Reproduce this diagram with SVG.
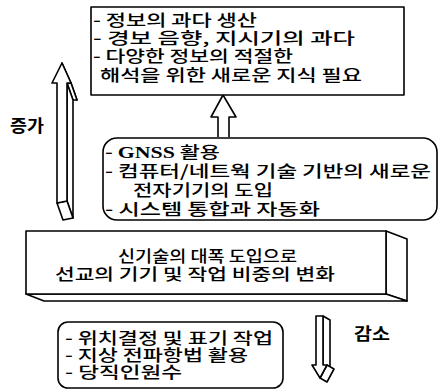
<svg xmlns="http://www.w3.org/2000/svg" width="441" height="390" viewBox="0 0 441 390">
<style>
.b{fill:#fff;stroke:#000;stroke-width:1.6;stroke-linejoin:round}
.t{font-family:"Noto Sans CJK KR","Noto Sans CJK SC",sans-serif;font-size:16px;fill:#000;font-weight:500}
.s{font-family:"Liberation Serif",serif;font-weight:bold}
.l{font-family:"Noto Sans CJK KR",sans-serif;font-size:17px;font-weight:bold;fill:#000}
</style>
<rect width="441" height="390" fill="#fff"/>
<g id="connectors">
  <g id="arrow-up-left">
    <polygon class="b" points="62,63 71,83 77,100 68,80"/>
    <polygon class="b" points="71,83 67,83 73,100 77,100"/>
    <polygon class="b" points="67,83 67,201 73,218 73,100"/>
    <polygon class="b" points="57,203 67,201 73,218 63,220"/>
    <polygon class="b" points="62,63 52,83 57,83 57,203 67,201 67,83 71,83"/>
  </g>
  <polyline id="arrow-up-center" class="b" fill="none" points="218,137 218,117 211,117 223,95 236,117 229,117 229,137"/>
  <g id="arrow-down-right">
    <polygon class="b" points="323,316 330,320 330,369 323,365"/>
    <polygon class="b" points="327,365 334,369 327,382 320,378"/>
    <polygon class="b" points="316,316 323,316 323,365 327,365 320,378 312,365 316,365"/>
  </g>
  <text class="l" x="10" y="132" textLength="34" lengthAdjust="spacingAndGlyphs">증가</text>
  <text class="l" x="354" y="340" textLength="36" lengthAdjust="spacingAndGlyphs">감소</text>
</g>
<g id="top-box">
  <rect class="b" x="91" y="7" width="313" height="88"/>
  <text class="t">
    <tspan x="93" y="26" textLength="164" lengthAdjust="spacingAndGlyphs">- 정보의 과다 생산</tspan>
    <tspan x="93" y="44" textLength="262" lengthAdjust="spacingAndGlyphs">- 경보 음향, 지시기의 과다</tspan>
    <tspan x="93" y="62" textLength="200" lengthAdjust="spacingAndGlyphs">- 다양한 정보의 적절한</tspan>
    <tspan x="100" y="81" textLength="262" lengthAdjust="spacingAndGlyphs">해석을 위한 새로운 지식 필요</tspan>
  </text>
</g>
<g id="tech-box">
  <rect class="b" x="103" y="138" width="334" height="82" rx="14"/>
  <text class="t">
    <tspan x="105" y="158" textLength="115" lengthAdjust="spacingAndGlyphs">- <tspan class="s">GNSS</tspan> 활용</tspan>
    <tspan x="105" y="177" textLength="326" lengthAdjust="spacingAndGlyphs">- 컴퓨터/네트웍 기술 기반의 새로운</tspan>
    <tspan x="133" y="196" textLength="140" lengthAdjust="spacingAndGlyphs">전자기기의 도입</tspan>
    <tspan x="105" y="215" textLength="215" lengthAdjust="spacingAndGlyphs">- 시스템 통합과 자동화</tspan>
  </text>
</g>
<g id="change-bar">
  <polygon class="b" points="386,231 407,239 407,301 386,294"/>
  <polygon class="b" points="26,294 386,294 407,301 44,301"/>
  <rect class="b" x="26" y="231" width="360" height="63"/>
  <text class="t">
    <tspan x="118" y="262" textLength="179" lengthAdjust="spacingAndGlyphs">신기술의 대폭 도입으로</tspan>
    <tspan x="55" y="280" textLength="280" lengthAdjust="spacingAndGlyphs">선교의 기기 및 작업 비중의 변화</tspan>
  </text>
</g>
<g id="decrease-box">
  <rect class="b" x="58" y="322" width="225" height="66" rx="10"/>
  <text class="t">
    <tspan x="65" y="344" textLength="208" lengthAdjust="spacingAndGlyphs">- 위치결정 및 표기 작업</tspan>
    <tspan x="65" y="361" textLength="183" lengthAdjust="spacingAndGlyphs">- 지상 전파항법 활용</tspan>
    <tspan x="65" y="378" textLength="117" lengthAdjust="spacingAndGlyphs">- 당직인원수</tspan>
  </text>
</g>
</svg>
